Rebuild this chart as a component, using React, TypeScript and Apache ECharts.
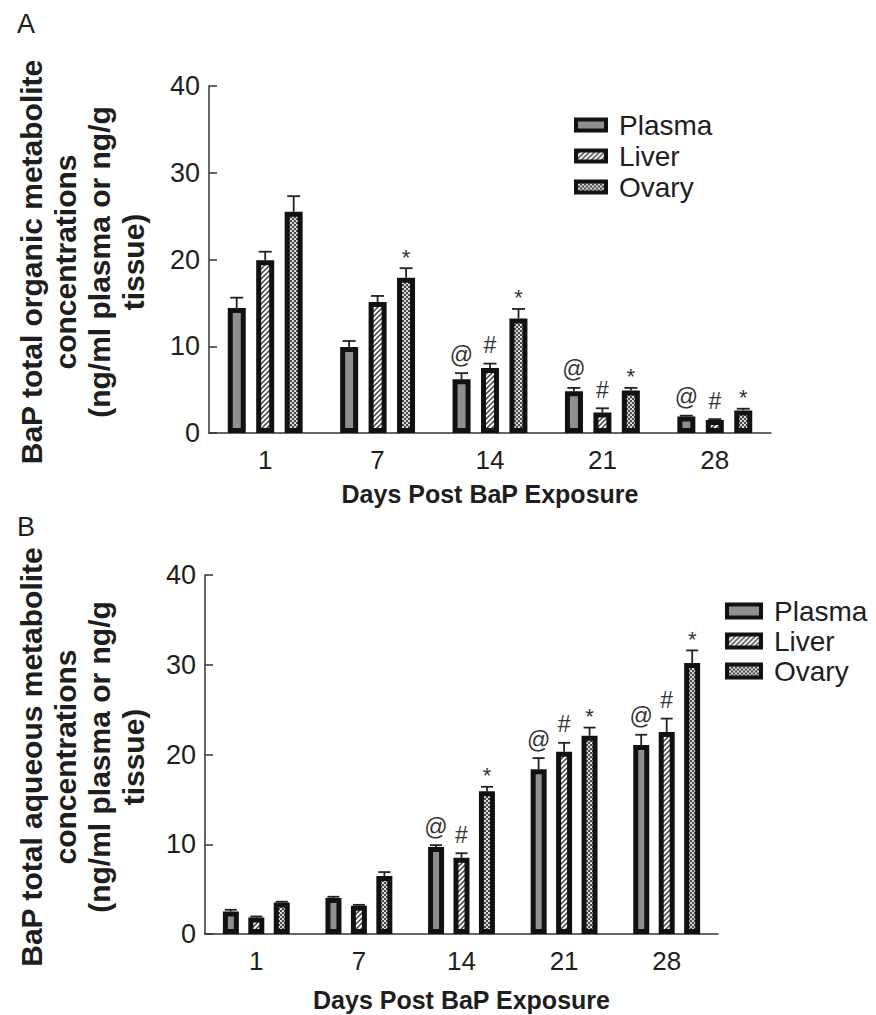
import React, { useEffect, useRef } from "react";
import * as echarts from "echarts";

const days = ["1", "7", "14", "21", "28"];
const seriesNames = ["Plasma", "Liver", "Ovary"];

// Panel A: total organic metabolite concentrations
const organicPlasma = [14.4, 9.9, 6.2, 4.8, 1.9];
const organicLiver = [19.9, 15.1, 7.5, 2.35, 1.5];
const organicOvary = [25.5, 17.9, 13.2, 4.9, 2.6];
const organicPlasmaErr = [1.2, 0.7, 0.7, 0.4, 0.1];
const organicLiverErr = [1.0, 0.7, 0.5, 0.5, 0.1];
const organicOvaryErr = [1.8, 1.1, 1.1, 0.3, 0.2];
const organicPlasmaMark = ["", "", "@", "@", "@"];
const organicLiverMark = ["", "", "#", "#", "#"];
const organicOvaryMark = ["", "*", "*", "*", "*"];

// Panel B: total aqueous metabolite concentrations
const aqueousPlasma = [2.5, 4.0, 9.7, 18.35, 21.05];
const aqueousLiver = [1.85, 3.15, 8.5, 20.3, 22.5];
const aqueousOvary = [3.5, 6.45, 15.9, 22.1, 30.2];
const aqueousPlasmaErr = [0.2, 0.15, 0.2, 1.25, 1.15];
const aqueousLiverErr = [0.1, 0.1, 0.5, 1.0, 1.5];
const aqueousOvaryErr = [0.1, 0.45, 0.5, 0.9, 1.4];
const aqueousPlasmaMark = ["", "", "@", "@", "@"];
const aqueousLiverMark = ["", "", "#", "#", "#"];
const aqueousOvaryMark = ["", "", "*", "*", "*"];

const yMin = 0;
const yMax = 40;
const yInterval = 10;

const FONT = "'Liberation Sans', Arial, Helvetica, sans-serif";
const INK = "#1e1e1e";

function makeHatch(): HTMLCanvasElement {
  const s = 5;
  const c = document.createElement("canvas");
  c.width = s;
  c.height = s;
  const g = c.getContext("2d")!;
  g.fillStyle = "#ffffff";
  g.fillRect(0, 0, s, s);
  g.strokeStyle = "#404040";
  g.lineWidth = 1.5;
  g.beginPath();
  g.moveTo(-1, s + 1);
  g.lineTo(s + 1, -1);
  g.moveTo(-1, 1);
  g.lineTo(1, -1);
  g.moveTo(s - 1, s + 1);
  g.lineTo(s + 1, s - 1);
  g.stroke();
  return c;
}

function makeDots(): HTMLCanvasElement {
  const s = 4;
  const c = document.createElement("canvas");
  c.width = s;
  c.height = s;
  const g = c.getContext("2d")!;
  g.fillStyle = "#484848";
  g.fillRect(0, 0, s, s);
  g.fillStyle = "#f2f2f2";
  g.beginPath();
  g.arc(1, 1, 1.05, 0, Math.PI * 2);
  g.arc(3, 3, 1.05, 0, Math.PI * 2);
  g.fill();
  return c;
}

export default function App() {
  const ref = useRef<HTMLDivElement>(null);

  useEffect(() => {
    if (!ref.current) return;
    const chart = echarts.init(ref.current, undefined, { renderer: "svg" });

    const hatch = makeHatch();
    const dots = makeDots();
    const fills: any[] = [
      "#8f8f8f",
      { image: hatch, repeat: "repeat", imageWidth: hatch.width, imageHeight: hatch.height },
      { image: dots, repeat: "repeat", imageWidth: dots.width, imageHeight: dots.height },
    ];

    const panels = [
      {
        values: [organicPlasma, organicLiver, organicOvary],
        errs: [organicPlasmaErr, organicLiverErr, organicOvaryErr],
        marks: [organicPlasmaMark, organicLiverMark, organicOvaryMark],
        barWidth: 18,
        spacing: 28.5,
        capHalf: 6.5,
      },
      {
        values: [aqueousPlasma, aqueousLiver, aqueousOvary],
        errs: [aqueousPlasmaErr, aqueousLiverErr, aqueousOvaryErr],
        marks: [aqueousPlasmaMark, aqueousLiverMark, aqueousOvaryMark],
        barWidth: 16,
        spacing: 25.5,
        capHalf: 6,
      },
    ];

    const series: any[] = [];
    panels.forEach((p, pi) => {
      const gapPct = Math.round(((p.spacing - p.barWidth) / p.barWidth) * 100) + "%";
      p.values.forEach((vals, si) => {
        series.push({
          type: "bar",
          name: seriesNames[si],
          xAxisIndex: pi,
          yAxisIndex: pi,
          data: vals,
          barWidth: p.barWidth,
          barGap: gapPct,
          itemStyle: { color: fills[si], borderColor: "#111111", borderWidth: 5 },
          emphasis: { disabled: true },
        });
      });
      const items: { s: number; e: number; mark: string; value: number[] }[] = [];
      p.values.forEach((vals, si) => {
        vals.forEach((v, ci) => {
          items.push({ s: si, e: p.errs[si][ci], mark: p.marks[si][ci], value: [ci, v, v + p.errs[si][ci]] });
        });
      });
      series.push({
        type: "custom",
        xAxisIndex: pi,
        yAxisIndex: pi,
        z: 5,
        silent: true,
        encode: { x: 0, y: [1, 2] },
        data: items.map((it) => it.value),
        renderItem: (params: any, api: any) => {
          const it = items[params.dataIndex];
          const base = api.coord([api.value(0), api.value(1)]);
          const top = api.coord([api.value(0), api.value(2)]);
          const x = base[0] + (it.s - 1) * p.spacing;
          const children: any[] = [
            {
              type: "line",
              shape: { x1: x, y1: base[1], x2: x, y2: top[1] },
              style: { stroke: "#222", lineWidth: 1.8 },
            },
            {
              type: "line",
              shape: { x1: x - p.capHalf, y1: top[1], x2: x + p.capHalf, y2: top[1] },
              style: { stroke: "#222", lineWidth: 1.8 },
            },
          ];
          if (it.mark) {
            children.push({
              type: "text",
              x: x,
              y: top[1] - (it.mark === "*" ? 0 : 7),
              style: {
                text: it.mark,
                fill: "#333",
                font: (it.mark === "*" ? "22px " : "23px ") + FONT,
                align: "center",
                verticalAlign: "bottom",
              },
            });
          }
          return { type: "group", children };
        },
      });
    });

    const yAxisBase = (gi: number) => ({
      type: "value",
      gridIndex: gi,
      min: yMin,
      max: yMax,
      interval: yInterval,
      splitLine: { show: false },
      axisLine: { show: true, lineStyle: { color: "#333", width: 1.5 } },
      axisTick: { show: true, inside: true, length: 8, lineStyle: { color: "#333", width: 1.5 } },
      axisLabel: { fontSize: 27, fontFamily: FONT, color: INK, margin: 9 },
    });
    const xAxisBase = (gi: number, gap: number) => ({
      type: "category",
      gridIndex: gi,
      data: days,
      axisLine: { show: true, lineStyle: { color: "#333", width: 1.5 } },
      axisTick: { show: false },
      axisLabel: { fontSize: 26, fontFamily: FONT, color: INK, margin: 14 },
      name: "Days Post BaP Exposure",
      nameLocation: "middle",
      nameGap: gap,
      nameTextStyle: { fontSize: 25, fontWeight: "bold", fontFamily: FONT, color: INK },
    });

    const legendBase = {
      data: seriesNames,
      orient: "vertical",
      icon: "rect",
      selectedMode: false,
      itemStyle: { borderWidth: 4, borderColor: "#111111" },
      textStyle: { fontSize: 28, fontFamily: FONT, color: INK, padding: [0, 0, 0, 8] },
    };

    const titleStyle = { font: "bold 30px " + FONT, fill: INK, align: "center", verticalAlign: "middle", lineHeight: 34 };

    chart.setOption({
      animation: false,
      backgroundColor: "#ffffff",
      grid: [
        { left: 209, top: 86, width: 562, height: 347 },
        { left: 205, top: 575, width: 513, height: 359 },
      ],
      xAxis: [xAxisBase(0, 48), xAxisBase(1, 53)],
      yAxis: [yAxisBase(0), yAxisBase(1)],
      legend: [
        { ...legendBase, left: 569, top: 106, itemGap: 3, itemWidth: 30, itemHeight: 11 },
        { ...legendBase, left: 720, top: 592, itemGap: 2, itemWidth: 34, itemHeight: 13 },
      ],
      graphic: [
        { type: "text", left: 17, top: 10, style: { text: "A", font: "27px " + FONT, fill: INK } },
        { type: "text", left: 17, top: 513, style: { text: "B", font: "27px " + FONT, fill: INK } },
        {
          type: "text",
          x: 82,
          y: 262,
          rotation: Math.PI / 2,
          style: { ...titleStyle, text: "BaP total organic metabolite\nconcentrations\n(ng/ml plasma or ng/g\ntissue)" },
        },
        {
          type: "text",
          x: 82,
          y: 757,
          rotation: Math.PI / 2,
          style: { ...titleStyle, text: "BaP total aqueous metabolite\nconcentrations\n(ng/ml plasma or ng/g\ntissue)" },
        },
      ],
      series,
    });

    return () => chart.dispose();
  }, []);

  return (
    <div
      ref={ref}
      style={{ position: "absolute", left: 0, top: 0, width: 876, height: 1015, background: "#fff" }}
    />
  );
}
